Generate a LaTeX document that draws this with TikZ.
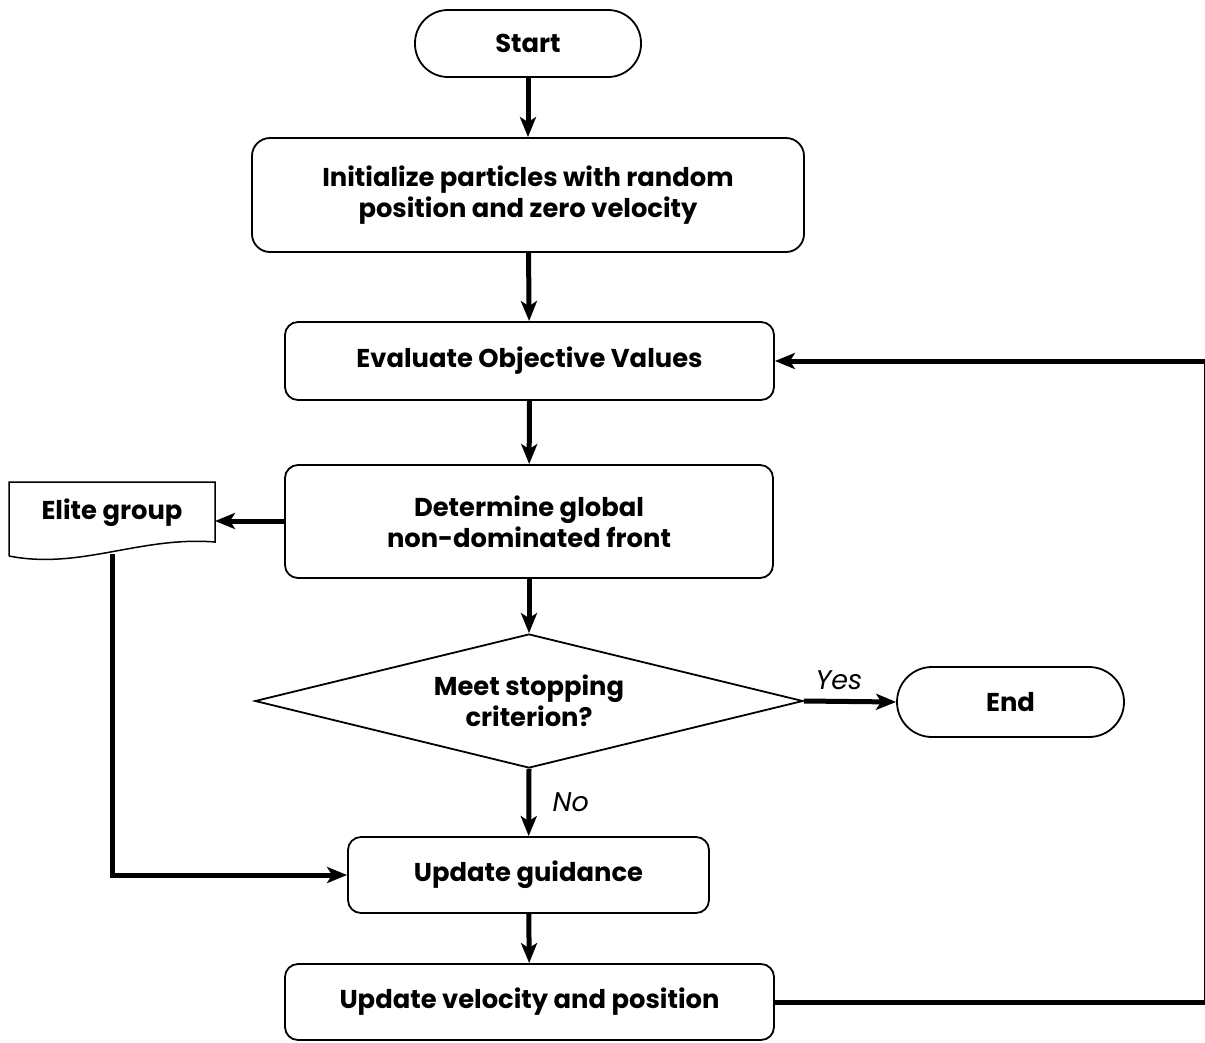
\documentclass[tikz,border=0pt]{standalone}
\usepackage{fontspec}
\setmainfont{Poppins}
\usetikzlibrary{arrows.meta,shapes.geometric}
\begin{document}
\begin{tikzpicture}[x=1pt,y=-1pt,
  every node/.style={font=\fontsize{25.8}{31}\selectfont\bfseries},
  box/.style={draw,line width=1.8pt,rounded corners=13pt,align=center,inner sep=0pt},
  term/.style={box,rounded corners=33pt,minimum width=226pt,minimum height=67pt},
  decide/.style={draw,line width=1.8pt,shape=diamond,aspect=4.09,inner sep=0pt,
    minimum width=548pt,minimum height=134pt,align=center},
  flow/.style={line width=5pt,-{Stealth[length=20pt,width=16pt,inset=5pt]}},
  lbl/.style={font=\fontsize{27}{31}\selectfont\itshape}]
\useasboundingbox[fill=white] (0,0) rectangle (1205,1042);

% process boxes
\node[term] (start) at (528,43.5) {Start};
\node[box,minimum width=552pt,minimum height=114pt,rounded corners=18pt] (init) at (528,195)
  {Initialize particles with random\\position and zero velocity};
\node[box,minimum width=489pt,minimum height=78pt] (eval) at (529.5,361) {Evaluate Objective Values};
\node[box,minimum width=488pt,minimum height=113pt] (front) at (529,521.5)
  {Determine global\\non-dominated front};
\node[decide] (stop) at (529,701) {Meet stopping\\criterion?};
\node[term,minimum width=227pt,minimum height=70pt,rounded corners=35pt] (end) at (1010.5,702) {End};
\node[box,minimum width=361pt,minimum height=76pt] (guide) at (528.5,875) {Update guidance};
\node[box,minimum width=489pt,minimum height=76pt] (vel) at (529.5,1002) {Update velocity and position};

% elite group (document shape with wavy lower edge)
\draw[line width=1.5pt] (9,556) -- (9,482) -- (215,482) -- (215,542)
  .. controls (140,536) and (80,570) .. (9,556);
\node (elite) at (112,513) {Elite group};
\coordinate (eliteR) at (215,521);
\coordinate (eliteB) at (112,554);

% connectors
\draw[flow] (start) -- (init);
\draw[flow] (init) -- (eval);
\draw[flow] (eval) -- (front);
\draw[flow] (front) -- (stop.north);
\draw[flow] (stop.south) -- node[lbl,right=18pt,pos=0.5] (no) {No} (guide);
\draw[flow] (stop.east) -- node[lbl,above=6pt,pos=0.38] (yes) {Yes} (end.west);
\draw[flow] (front.west |- eliteR) -- (eliteR);
\draw[flow] (eliteB) |- (guide.west);
\draw[flow] (guide) -- (vel);
\coordinate (loop) at (1206.8,1002);
\draw[flow] (vel.east) -- (loop) |- (eval.east);
\end{tikzpicture}
\end{document}
